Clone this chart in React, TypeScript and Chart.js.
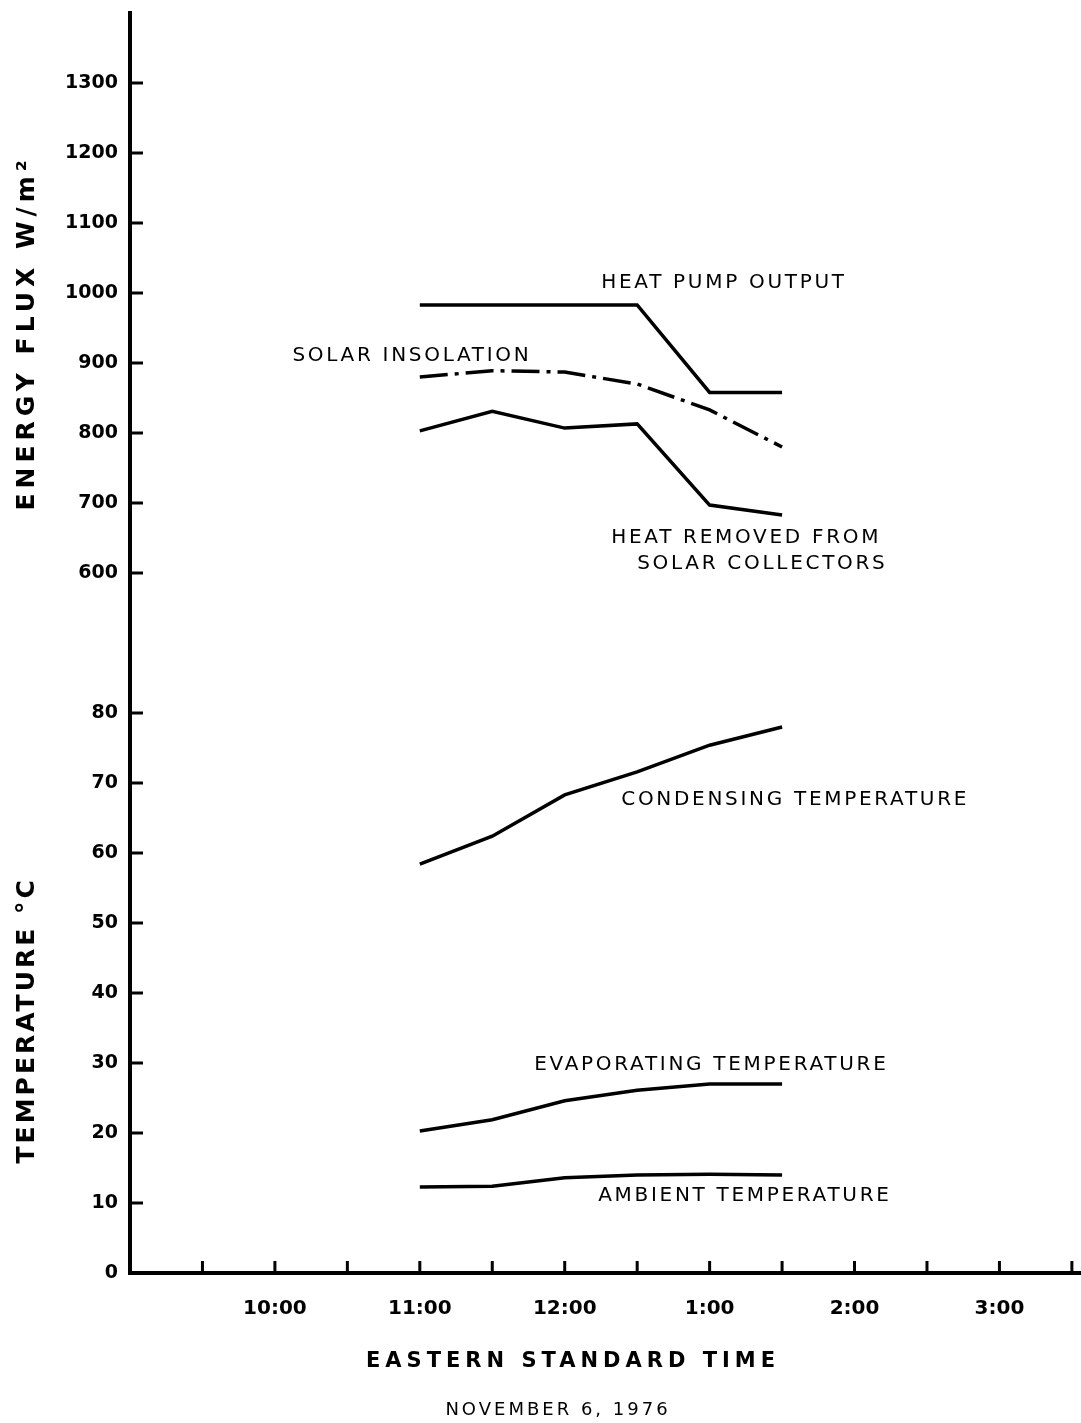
import React, { useEffect, useRef } from 'react';
import { Chart, registerables } from 'chart.js';

Chart.register(...registerables);

// ---- data ----
const TIMES_H = [11, 11.5, 12, 12.5, 13, 13.5]; // 11:00 .. 1:30 (24h hours)
const HEAT_PUMP_OUTPUT = [983, 983, 983, 983, 858, 858]; // W/m2
const SOLAR_INSOLATION = [880, 889, 887, 870, 833, 780]; // W/m2
const HEAT_REMOVED = [803, 831, 807, 813, 697, 683]; // W/m2
const CONDENSING_T = [58.4, 62.4, 68.3, 71.6, 75.4, 78.0]; // °C
const EVAPORATING_T = [20.3, 21.9, 24.6, 26.1, 27.0, 27.0]; // °C
const AMBIENT_T = [12.3, 12.4, 13.6, 14.0, 14.1, 14.0]; // °C

const TEMP_TICKS = [0, 10, 20, 30, 40, 50, 60, 70, 80];
const ENERGY_TICKS = [600, 700, 800, 900, 1000, 1100, 1200, 1300];
const X_TICKS = [9.5, 10, 10.5, 11, 11.5, 12, 12.5, 13, 13.5, 14, 14.5, 15, 15.5];
const X_LABEL_HOURS = [10, 11, 12, 13, 14, 15];
const X_LABELS = ['10:00', '11:00', '12:00', '1:00', '2:00', '3:00'];

// axis ranges (temperature and energy share the same vertical extent)
const X_MIN = 9;
const X_MAX = 15.556;
const T_MIN = 0;
const T_MAX = 180;
const E_MIN = -400;
const E_MAX = 1400;

const eToT = (e: number) => T_MIN + ((e - E_MIN) / (E_MAX - E_MIN)) * (T_MAX - T_MIN);

// curve annotations (anchor: hour, value on axis)
const NOTES = [
  { text: 'HEAT PUMP OUTPUT', h: 12.252, v: 1014, axis: 'yE' },
  { text: 'SOLAR INSOLATION', h: 10.121, v: 911, axis: 'yE' },
  { text: 'HEAT REMOVED FROM', h: 12.321, v: 650, axis: 'yE' },
  { text: 'SOLAR COLLECTORS', h: 12.5, v: 613, axis: 'yE' },
  { text: 'CONDENSING TEMPERATURE', h: 12.39, v: 67.6, axis: 'y' },
  { text: 'EVAPORATING TEMPERATURE', h: 11.79, v: 29.7, axis: 'y' },
  { text: 'AMBIENT TEMPERATURE', h: 12.231, v: 11.1, axis: 'y' },
];

const FONT = 'DejaVu Sans';

const decorPlugin = {
  id: 'decor',
  afterDraw(chart: any) {
    const ctx = chart.ctx as CanvasRenderingContext2D;
    const xs = chart.scales.x;
    const ys = chart.scales.y;
    const ye = chart.scales.yE;
    ctx.save();
    ctx.strokeStyle = '#000';
    ctx.lineWidth = 3;
    ctx.lineCap = 'butt';
    // inside tick marks
    ys.ticks.forEach((t: any) => {
      const py = ys.getPixelForValue(t.value);
      ctx.beginPath();
      ctx.moveTo(xs.left, py);
      ctx.lineTo(xs.left + 13, py);
      ctx.stroke();
    });
    xs.ticks.forEach((t: any) => {
      const px = xs.getPixelForValue(t.value);
      ctx.beginPath();
      ctx.moveTo(px, ys.bottom);
      ctx.lineTo(px, ys.bottom - 12);
      ctx.stroke();
    });

    ctx.fillStyle = '#000';
    ctx.textBaseline = 'middle';

    // curve labels
    ctx.font = `20px "${FONT}"`;
    (ctx as any).letterSpacing = '2.7px';
    ctx.textAlign = 'left';
    NOTES.forEach((n) => {
      const sc = n.axis === 'yE' ? ye : ys;
      ctx.fillText(n.text, xs.getPixelForValue(n.h), sc.getPixelForValue(n.v));
    });

    // y-axis titles (rotated)
    ctx.textAlign = 'center';
    ctx.font = `bold 25px "${FONT}"`;
    const drawRot = (text: string, cx: number, cy: number, ls: string) => {
      ctx.save();
      (ctx as any).letterSpacing = ls;
      ctx.translate(cx, cy);
      ctx.rotate(-Math.PI / 2);
      ctx.fillText(text, 0, 0);
      ctx.restore();
    };
    drawRot('ENERGY FLUX W/m²', 27, ye.getPixelForValue(943), '5px');
    drawRot('TEMPERATURE °C', 27, ys.getPixelForValue(36.1), '3px');

    // x-axis title and date
    ctx.font = `bold 21px "${FONT}"`;
    (ctx as any).letterSpacing = '5px';
    ctx.fillText('EASTERN STANDARD TIME', 573, ys.bottom + 89);
    ctx.font = `18px "${FONT}"`;
    (ctx as any).letterSpacing = '3px';
    ctx.fillText('NOVEMBER 6, 1976', 558, ys.bottom + 137);
    ctx.restore();
  },
};

export default function App() {
  const ref = useRef<HTMLCanvasElement | null>(null);

  useEffect(() => {
    document.body.style.margin = '0';
    if (!ref.current) return;
    const mk = (vals: number[]) => TIMES_H.map((h, i) => ({ x: h, y: vals[i] }));
    const base = {
      borderColor: '#000',
      borderWidth: 3.5,
      pointRadius: 0,
      tension: 0,
      fill: false,
    };
    const chart = new Chart(ref.current, {
      type: 'line',
      data: {
        datasets: [
          { ...base, label: 'Heat pump output', data: mk(HEAT_PUMP_OUTPUT), yAxisID: 'yE' },
          {
            ...base,
            label: 'Solar insolation',
            data: mk(SOLAR_INSOLATION),
            yAxisID: 'yE',
            borderDash: [28, 7, 4, 7],
          },
          { ...base, label: 'Heat removed from solar collectors', data: mk(HEAT_REMOVED), yAxisID: 'yE' },
          { ...base, label: 'Condensing temperature', data: mk(CONDENSING_T), yAxisID: 'y' },
          { ...base, label: 'Evaporating temperature', data: mk(EVAPORATING_T), yAxisID: 'y' },
          { ...base, label: 'Ambient temperature', data: mk(AMBIENT_T), yAxisID: 'y' },
        ],
      },
      options: {
        animation: false,
        responsive: false,
        devicePixelRatio: 1,
        layout: { autoPadding: false, padding: { top: 13, right: 1, left: 0, bottom: 0 } },
        plugins: {
          legend: { display: false },
          tooltip: { enabled: false },
          title: { display: false },
        },
        scales: {
          x: {
            type: 'linear',
            position: 'bottom',
            min: X_MIN,
            max: X_MAX,
            afterBuildTicks: (s: any) => {
              s.ticks = X_TICKS.map((v) => ({ value: v }));
            },
            afterFit: (s: any) => {
              s.height = 150;
              s.paddingLeft = 0;
              s.paddingRight = 0;
            },
            grid: { display: false },
            border: { display: true, color: '#000', width: 4 },
            ticks: {
              autoSkip: false,
              maxRotation: 0,
              padding: 16,
              color: '#000',
              font: { family: FONT, size: 20, weight: 'bold' },
              callback: (v: any) => {
                const i = X_LABEL_HOURS.indexOf(Number(v));
                return i >= 0 ? X_LABELS[i] : '';
              },
            },
          },
          y: {
            type: 'linear',
            position: 'left',
            min: T_MIN,
            max: T_MAX,
            afterBuildTicks: (s: any) => {
              s.ticks = [
                ...TEMP_TICKS.map((v) => ({ value: v })),
                ...ENERGY_TICKS.map((e) => ({ value: eToT(e) })),
              ];
            },
            afterFit: (s: any) => {
              s.width = 130;
              s.paddingTop = 0;
              s.paddingBottom = 0;
            },
            grid: { display: false },
            border: { display: true, color: '#000', width: 4 },
            ticks: {
              autoSkip: false,
              padding: 4,
              color: '#000',
              font: { family: FONT, size: 19, weight: 'bold' },
              callback: (_v: any, i: number) =>
                i < TEMP_TICKS.length
                  ? String(TEMP_TICKS[i])
                  : String(ENERGY_TICKS[i - TEMP_TICKS.length]),
            },
          },
          yE: {
            type: 'linear',
            display: false,
            min: E_MIN,
            max: E_MAX,
          },
        },
      },
      plugins: [decorPlugin],
    } as any);
    return () => chart.destroy();
  }, []);

  return (
    <div style={{ width: 1081, height: 1423, background: '#fff' }}>
      <canvas ref={ref} width={1081} height={1423} style={{ display: 'block' }} />
    </div>
  );
}
